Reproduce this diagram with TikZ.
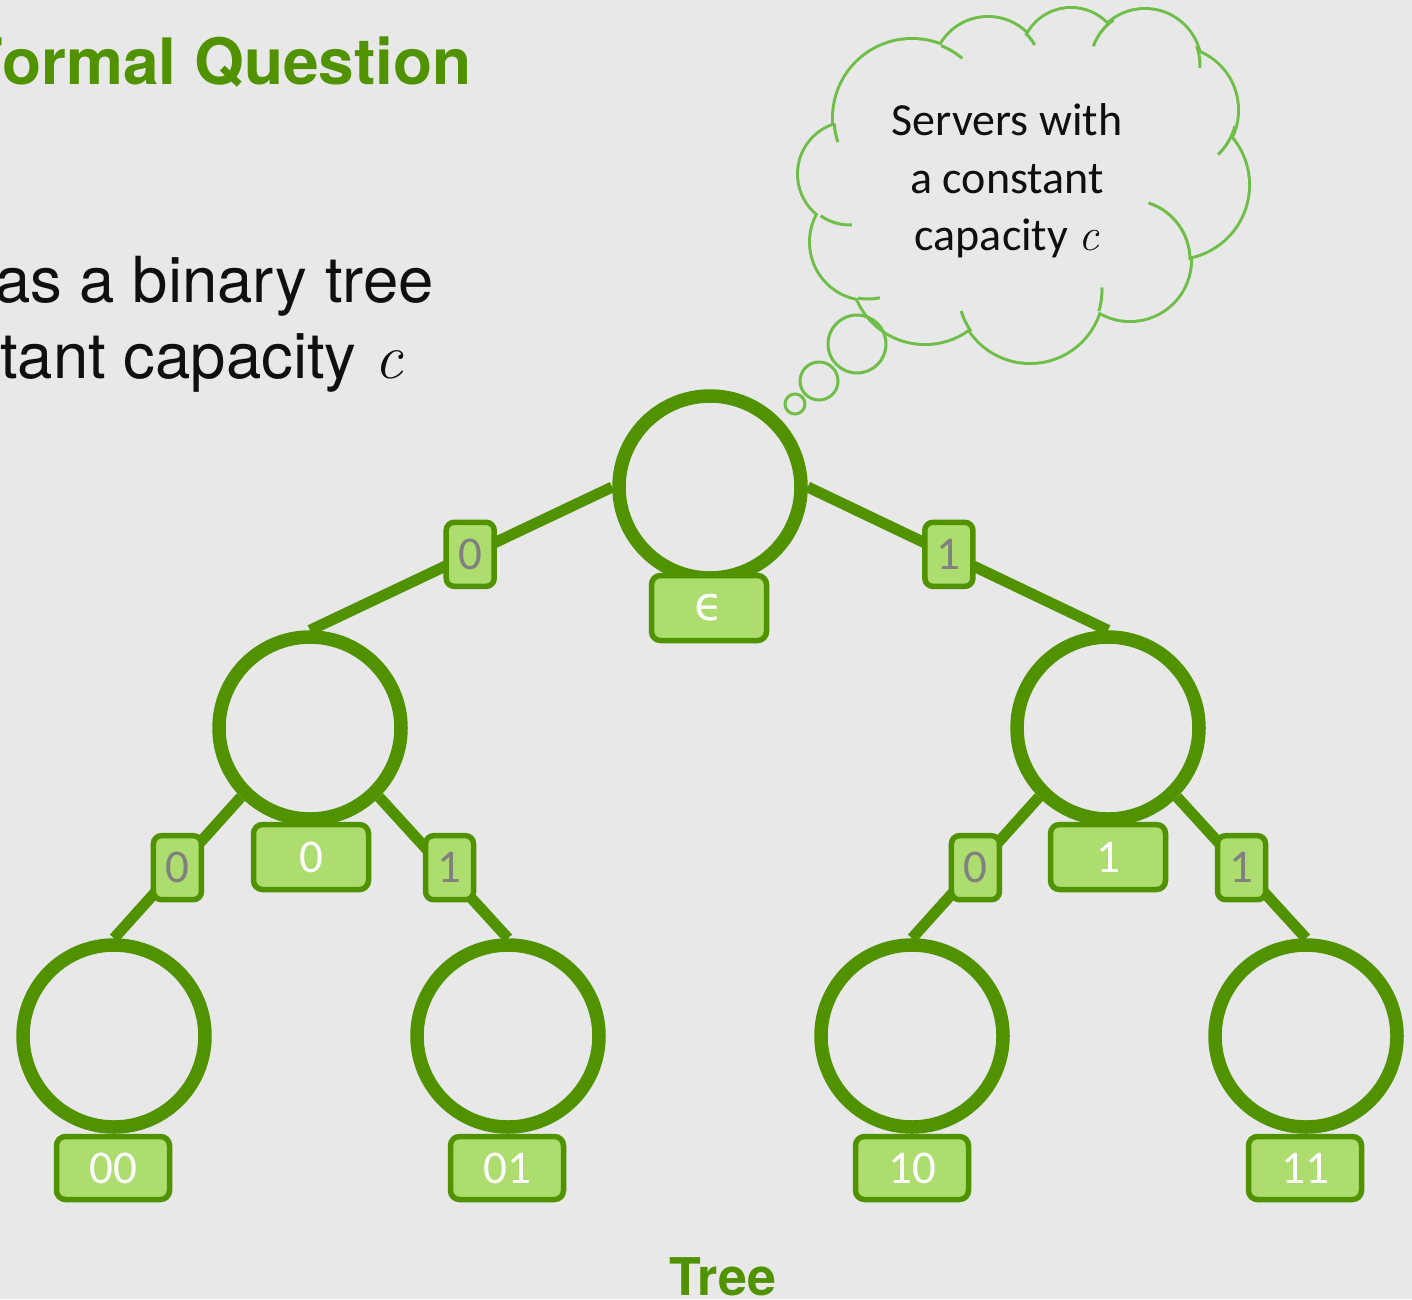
\documentclass[tikz,border=0pt]{standalone}
\usepackage{fontspec}
\newfontfamily\heros{TeX Gyre Heros}
\newfontfamily\carlito{Carlito}
\newfontfamily\dejavu{DejaVu Sans}

\definecolor{bgcol}{RGB}{232,232,232}
\definecolor{dkgreen}{RGB}{80,146,0}
\definecolor{ltgreen}{RGB}{172,221,110}
\definecolor{cloudgreen}{RGB}{110,190,72}
\definecolor{labgray}{RGB}{128,128,128}
\definecolor{inkblack}{RGB}{15,15,15}

\begin{document}
\begin{tikzpicture}[x=1pt,y=-1pt,
  treenode/.style={circle, draw=dkgreen, line width=13.5pt, minimum size=182pt, inner sep=0pt},
  treeedge/.style={draw=dkgreen, line width=11pt},
  edgelabel/.style={rectangle, rounded corners=8pt, draw=dkgreen, line width=5.5pt,
    fill=ltgreen, minimum width=48pt, minimum height=64pt, inner sep=0pt,
    text=labgray, font=\carlito\fontsize{47}{50}\selectfont},
  keylabel/.style={rectangle, rounded corners=9pt, draw=dkgreen, line width=5.5pt,
    fill=ltgreen, minimum width=115pt, minimum height=65pt, inner sep=0pt,
    text=white, font=\carlito\fontsize{47}{50}\selectfont},
  cloudline/.style={draw=cloudgreen, line width=3pt},
  cloudtext/.style={anchor=base, inner sep=0pt, text=inkblack,
    font=\carlito\fontsize{46}{52}\selectfont}
]
\fill[bgcol] (0,0) rectangle (1412,1299);
\useasboundingbox (0,0) rectangle (1412,1299);
\clip (0,0) rectangle (1412,1299);

% heading and body text
\node[anchor=base east, inner sep=0pt, text=dkgreen,
  font=\heros\bfseries\fontsize{64}{70}\selectfont] (title) at (472,84) {Formal Question};
\node[anchor=base east, inner sep=0pt, text=inkblack,
  font=\heros\fontsize{63.5}{70}\selectfont] (lineone) at (434,302) {as a binary tree};
\node[anchor=base east, inner sep=0pt, text=inkblack,
  font=\heros\fontsize{63.5}{70}\selectfont] (linetwo) at (403,378) {tant capacity {\rmfamily\itshape c}};

% thought cloud: union of bumps, outline only
\foreach \cx/\cy/\cr in {912/118/78, 988/72/54, 1071/58/49, 1145/65/55, 1175/110/62,
    1175/185/73, 1130/260/60, 1030/290/72, 925/270/73, 868/242/57, 850/174/51}
  \draw[cloudline, line width=6pt] (\cx,\cy) circle[radius=\cr];
\fill[bgcol] (912,118) -- (988,72) -- (1071,58) -- (1145,65) -- (1175,110) -- (1175,185)
  -- (1130,260) -- (1030,290) -- (925,270) -- (868,242) -- (850,174) -- cycle;
\foreach \cx/\cy/\cr in {912/118/78, 988/72/54, 1071/58/49, 1145/65/55, 1175/110/62,
    1175/185/73, 1130/260/60, 1030/290/72, 925/270/73, 868/242/57, 850/174/51}
  \fill[bgcol] (\cx,\cy) circle[radius=\cr];
% inner strokes of the cloud
\foreach \cx/\cy/\cr/\sa/\ea in {912/118/78/-68/-50, 988/72/54/-46/-30, 1145/65/55/-160/-125,
    1145/65/55/-20/3, 1175/110/62/15/46, 1130/260/60/-72/0, 1030/290/72/-2/17,
    1030/290/72/145/163, 868/242/57/78/100, 850/174/51/88/125, 912/118/78/162/176}
  \draw[cloudline] (\cx,\cy) ++(\sa:\cr) arc[start angle=\sa, end angle=\ea, radius=\cr];
% trailing bubbles
\draw[cloudline] (857,344) circle[radius=29];
\draw[cloudline] (819,381) circle[radius=19];
\draw[cloudline] (795,404) circle[radius=10];

\node[cloudtext] (cloudone) at (1007,135) {Servers with};
\node[cloudtext] (cloudtwo) at (1007,193) {a constant};
\node[cloudtext] (cloudthree) at (1007,250) {capacity {\rmfamily\itshape c}};

% tree nodes
\node[treenode] (r)  at (710,487) {};
\node[treenode] (a)  at (310,728) {};
\node[treenode] (b)  at (1108,728) {};
\node[treenode] (aa) at (114,1036) {};
\node[treenode] (ab) at (508,1036) {};
\node[treenode] (ba) at (912,1036) {};
\node[treenode] (bb) at (1306,1036) {};

% tree edges with their bit labels
\draw[treeedge] (r.west) -- node[edgelabel, pos=0.47] (er0) {0} (a.north);
\draw[treeedge] (r.east) -- node[edgelabel, pos=0.47] (er1) {1} (b.north);
\draw[treeedge] (a.south west) -- node[edgelabel, pos=0.5] (ea0) {0} (aa.north);
\draw[treeedge] (a.south east) -- node[edgelabel, pos=0.5, xshift=6pt] (ea1) {1} (ab.north);
\draw[treeedge] (b.south west) -- node[edgelabel, pos=0.5] (eb0) {0} (ba.north);
\draw[treeedge] (b.south east) -- node[edgelabel, pos=0.5] (eb1) {1} (bb.north);

% prefix keys under each node
\node[keylabel] (kr)  at (709,608) {\dejavu ϵ};
\node[keylabel] (ka)  at (311,857) {0};
\node[keylabel] (kb)  at (1108,857) {1};
\node[keylabel, minimum width=113pt, minimum height=63pt] (kaa) at (113,1168) {00};
\node[keylabel, minimum width=113pt, minimum height=63pt] (kab) at (507,1168) {01};
\node[keylabel, minimum width=113pt, minimum height=63pt] (kba) at (912,1168) {10};
\node[keylabel, minimum width=113pt, minimum height=63pt] (kbb) at (1305,1168) {11};

% caption
\node[anchor=base, inner sep=0pt, text=dkgreen,
  font=\heros\bfseries\fontsize{52}{60}\selectfont] (caption) at (723,1295) {Tree};
\end{tikzpicture}
\end{document}
